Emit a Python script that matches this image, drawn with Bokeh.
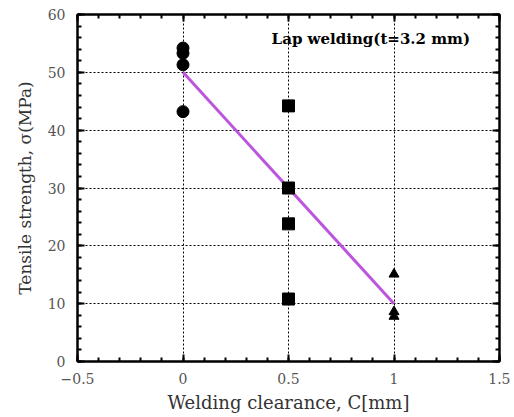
from bokeh.plotting import figure
from bokeh.models import LinearAxis, Range1d, FixedTicker, Label
from bokeh.embed import file_html
from bokeh.resources import INLINE

# data
circle_x = [0, 0, 0, 0]
circle_y = [54.2, 53.3, 51.3, 43.2]
square_x = [0.5, 0.5, 0.5, 0.5]
square_y = [44.2, 30.0, 23.8, 10.8]
tri_x = [1, 1, 1]
tri_y = [15.1, 8.6, 7.8]
fit_x = [0, 1]
fit_y = [50, 10]
x_ticks = [-0.5, 0, 0.5, 1, 1.5]
y_ticks = [0, 10, 20, 30, 40, 50, 60]

FONT = "DejaVu Serif"

p = figure(width=510, height=415, output_backend="svg", toolbar_location=None,
           x_range=Range1d(-0.5, 1.5), y_range=Range1d(0, 60),
           min_border_left=77, min_border_right=11, min_border_top=14, min_border_bottom=53)
p.background_fill_color = "white"
p.outline_line_color = "black"
p.outline_line_width = 2

# grid
p.xgrid.ticker = FixedTicker(ticks=[0, 0.5, 1])
p.ygrid.ticker = FixedTicker(ticks=[10, 20, 30, 40, 50])
for g in (p.xgrid, p.ygrid):
    g.grid_line_color = "black"
    g.grid_line_dash = "2 2"
    g.grid_line_width = 1

def style_axis(ax, show_labels):
    ax.axis_line_color = "black"
    ax.axis_line_width = 2
    ax.major_tick_in = 7
    ax.major_tick_out = 0
    ax.minor_tick_in = 4
    ax.minor_tick_out = 0
    ax.major_tick_line_width = 2
    ax.minor_tick_line_width = 2
    ax.major_label_text_font = FONT
    ax.major_label_text_font_size = "14px"
    ax.major_label_text_color = "#555555" if show_labels else None
    ax.axis_label_text_font = FONT
    ax.axis_label_text_font_size = "17px"
    ax.axis_label_text_font_style = "normal"
    ax.axis_label_text_color = "#333333"

xt = FixedTicker(ticks=x_ticks, minor_ticks=[round(-0.5 + 0.1 * i, 2) for i in range(21)])
yt = FixedTicker(ticks=y_ticks, minor_ticks=list(range(0, 61, 2)))

p.xaxis.ticker = xt
p.yaxis.ticker = yt
style_axis(p.xaxis[0], True)
style_axis(p.yaxis[0], True)
p.xaxis.major_label_overrides = {-0.5: "\u22120.5", 0: "0", 0.5: "0.5", 1: "1", 1.5: "1.5"}
p.xaxis.major_label_standoff = 11
p.yaxis.major_label_standoff = 12
p.xaxis.axis_label = "Welding clearance, C[mm]"
p.xaxis.axis_label_text_font_size = "18px"
p.yaxis.axis_label = "Tensile strength, \u03c3(MPa)"
p.xaxis.axis_label_standoff = 5
p.yaxis.axis_label_standoff = 10

top = LinearAxis(ticker=xt)
right = LinearAxis(ticker=yt)
style_axis(top, False)
style_axis(right, False)
top.major_label_text_font_size = "0px"
right.major_label_text_font_size = "0px"
top.major_label_standoff = 0
right.major_label_standoff = 0
p.add_layout(top, "above")
p.add_layout(right, "right")

p.line(fit_x, fit_y, line_color="#bb55dd", line_width=3)
p.scatter(circle_x, circle_y, marker="circle", size=12, color="black")
p.scatter(square_x, square_y, marker="square", size=12, color="black")
p.scatter(tri_x, tri_y, marker="triangle", size=10, color="black")

p.add_layout(Label(x=0.42, y=55.7, text="Lap welding(t=3.2 mm)", text_font=FONT,
                   text_font_size="15px", text_font_style="bold", text_color="black",
                   text_baseline="middle"))

open("out.html", "w").write(file_html(p, INLINE))
